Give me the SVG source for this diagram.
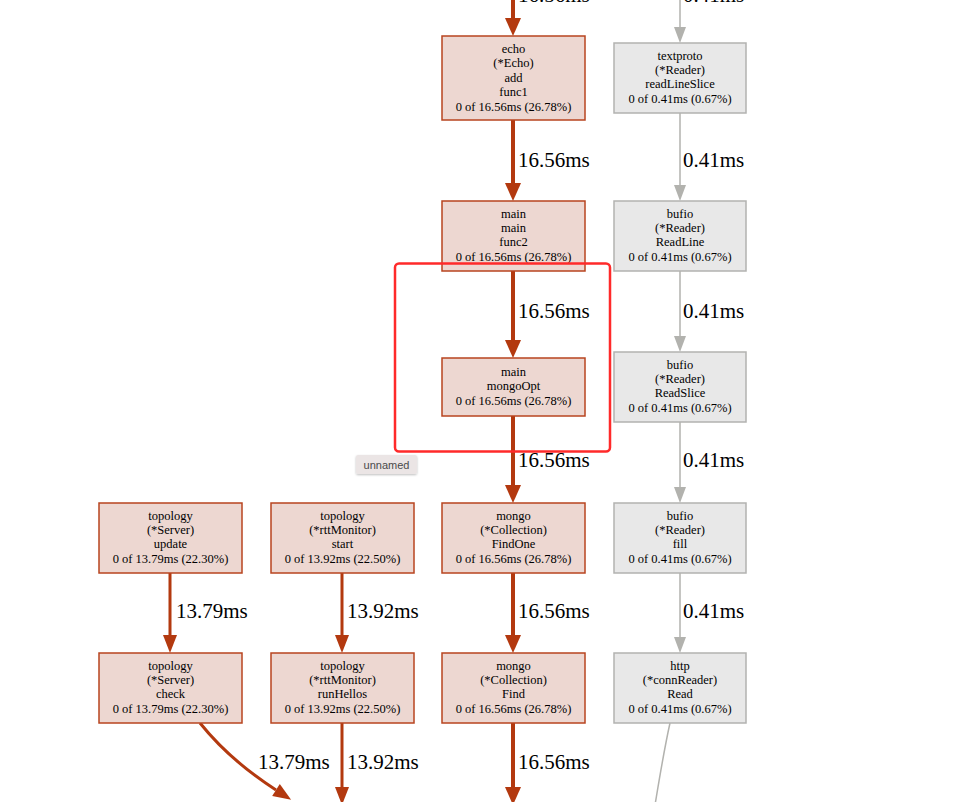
<svg xmlns="http://www.w3.org/2000/svg" width="961" height="802" viewBox="0 0 961 802">
<defs>
<style>
.hot rect{fill:#edd7d1;stroke:#b8441f;stroke-width:1.5}
.cold rect{fill:#e8e8e8;stroke:#b2b2b0;stroke-width:1.5}
.node text{font-family:"Liberation Serif","Times New Roman",serif;font-size:12.5px;fill:#000;text-anchor:middle}
.elabel{font-family:"Liberation Serif","Times New Roman",serif;font-size:21px;fill:#000}
.e-red{fill:none;stroke:#b3390f;stroke-width:4}
.e-red2{fill:none;stroke:#b3390f;stroke-width:3}
.e-grey{fill:none;stroke:#b2b2ae;stroke-width:1.5}
</style>
<marker id="ar" markerUnits="userSpaceOnUse" markerWidth="20" markerHeight="20" refX="0" refY="8" orient="auto" overflow="visible"><path d="M0,0 L18,8 L0,16 z" fill="#b3390f"/></marker>
<marker id="ar2" markerUnits="userSpaceOnUse" markerWidth="20" markerHeight="20" refX="0" refY="7" orient="auto" overflow="visible"><path d="M0,0 L18,7 L0,14 z" fill="#b3390f"/></marker>
<marker id="ag" markerUnits="userSpaceOnUse" markerWidth="20" markerHeight="20" refX="0" refY="6" orient="auto" overflow="visible"><path d="M0,0 L16,6 L0,12 z" fill="#b2b2ae"/></marker>
<filter id="sh" x="-20%" y="-30%" width="140%" height="170%"><feDropShadow dx="0" dy="1" stdDeviation="1" flood-color="#000" flood-opacity="0.25"/></filter>
</defs>
<rect width="961" height="802" fill="#fff"/>

<g id="connectors">
<line class="e-red" x1="513" y1="-10" x2="513" y2="18" marker-end="url(#ar)"/>
<line class="e-red" x1="513" y1="120" x2="513" y2="183" marker-end="url(#ar)"/>
<line class="e-red" x1="513" y1="271" x2="513" y2="340" marker-end="url(#ar)"/>
<line class="e-red" x1="513" y1="416" x2="513" y2="485" marker-end="url(#ar)"/>
<line class="e-red" x1="513" y1="573" x2="513" y2="635" marker-end="url(#ar)"/>
<line class="e-red" x1="513" y1="723" x2="513" y2="787" marker-end="url(#ar)"/>
<line class="e-grey" x1="680" y1="-10" x2="680" y2="27" marker-end="url(#ag)"/>
<line class="e-grey" x1="680" y1="113" x2="680" y2="185" marker-end="url(#ag)"/>
<line class="e-grey" x1="680" y1="271" x2="680" y2="336" marker-end="url(#ag)"/>
<line class="e-grey" x1="680" y1="422" x2="680" y2="487" marker-end="url(#ag)"/>
<line class="e-grey" x1="680" y1="573" x2="680" y2="637" marker-end="url(#ag)"/>
<path class="e-grey" d="M670,723 C664,750 660,775 655,805"/>
<line class="e-red2" x1="170" y1="573" x2="170" y2="635" marker-end="url(#ar2)"/>
<line class="e-red2" x1="342" y1="573" x2="342" y2="635" marker-end="url(#ar2)"/>
<line class="e-red2" x1="342" y1="723" x2="342" y2="787" marker-end="url(#ar2)"/>
<path class="e-red2" d="M200,723 C220,748 245,770 276,790" marker-end="url(#ar2)"/>
<text class="elabel" x="518" y="2">16.56ms</text>
<text class="elabel" x="683" y="2">0.41ms</text>
<text class="elabel" x="518" y="167">16.56ms</text>
<text class="elabel" x="683" y="167">0.41ms</text>
<text class="elabel" x="518" y="318">16.56ms</text>
<text class="elabel" x="683" y="318">0.41ms</text>
<text class="elabel" x="518" y="467">16.56ms</text>
<text class="elabel" x="683" y="467">0.41ms</text>
<text class="elabel" x="518" y="618">16.56ms</text>
<text class="elabel" x="683" y="618">0.41ms</text>
<text class="elabel" x="176" y="618">13.79ms</text>
<text class="elabel" x="347" y="618">13.92ms</text>
<text class="elabel" x="258" y="769">13.79ms</text>
<text class="elabel" x="347" y="769">13.92ms</text>
<text class="elabel" x="518" y="769">16.56ms</text>
</g>

<g id="n_echo_add_func1" class="node hot">
<rect x="442" y="36" width="143" height="84"/>
<text x="513.5" y="53">echo</text>
<text x="513.5" y="67.4">(*Echo)</text>
<text x="513.5" y="81.8">add</text>
<text x="513.5" y="96.2">func1</text>
<text x="513.5" y="110.6">0 of 16.56ms (26.78%)</text>
</g>
<g id="n_main_func2" class="node hot">
<rect x="442" y="201" width="143" height="70"/>
<text x="513.5" y="217.5">main</text>
<text x="513.5" y="231.9">main</text>
<text x="513.5" y="246.3">func2</text>
<text x="513.5" y="260.7">0 of 16.56ms (26.78%)</text>
</g>
<g id="n_main_mongoOpt" class="node hot">
<rect x="442" y="358" width="143" height="58"/>
<text x="513.5" y="376">main</text>
<text x="513.5" y="390.4">mongoOpt</text>
<text x="513.5" y="404.8">0 of 16.56ms (26.78%)</text>
</g>
<g id="n_mongo_FindOne" class="node hot">
<rect x="442" y="503" width="143" height="70"/>
<text x="513.5" y="519.5">mongo</text>
<text x="513.5" y="533.9">(*Collection)</text>
<text x="513.5" y="548.3">FindOne</text>
<text x="513.5" y="562.7">0 of 16.56ms (26.78%)</text>
</g>
<g id="n_mongo_Find" class="node hot">
<rect x="442" y="653" width="143" height="70"/>
<text x="513.5" y="669.5">mongo</text>
<text x="513.5" y="683.9">(*Collection)</text>
<text x="513.5" y="698.3">Find</text>
<text x="513.5" y="712.7">0 of 16.56ms (26.78%)</text>
</g>
<g id="n_topology_update" class="node hot">
<rect x="99" y="503" width="143" height="70"/>
<text x="170.5" y="519.5">topology</text>
<text x="170.5" y="533.9">(*Server)</text>
<text x="170.5" y="548.3">update</text>
<text x="170.5" y="562.7">0 of 13.79ms (22.30%)</text>
</g>
<g id="n_topology_check" class="node hot">
<rect x="99" y="653" width="143" height="70"/>
<text x="170.5" y="669.5">topology</text>
<text x="170.5" y="683.9">(*Server)</text>
<text x="170.5" y="698.3">check</text>
<text x="170.5" y="712.7">0 of 13.79ms (22.30%)</text>
</g>
<g id="n_rtt_start" class="node hot">
<rect x="271" y="503" width="143" height="70"/>
<text x="342.5" y="519.5">topology</text>
<text x="342.5" y="533.9">(*rttMonitor)</text>
<text x="342.5" y="548.3">start</text>
<text x="342.5" y="562.7">0 of 13.92ms (22.50%)</text>
</g>
<g id="n_rtt_runHellos" class="node hot">
<rect x="271" y="653" width="143" height="70"/>
<text x="342.5" y="669.5">topology</text>
<text x="342.5" y="683.9">(*rttMonitor)</text>
<text x="342.5" y="698.3">runHellos</text>
<text x="342.5" y="712.7">0 of 13.92ms (22.50%)</text>
</g>
<g id="n_textproto_readLineSlice" class="node cold">
<rect x="614" y="43" width="132" height="70"/>
<text x="680" y="59.5">textproto</text>
<text x="680" y="73.9">(*Reader)</text>
<text x="680" y="88.3">readLineSlice</text>
<text x="680" y="102.7">0 of 0.41ms (0.67%)</text>
</g>
<g id="n_bufio_ReadLine" class="node cold">
<rect x="614" y="201" width="132" height="70"/>
<text x="680" y="217.5">bufio</text>
<text x="680" y="231.9">(*Reader)</text>
<text x="680" y="246.3">ReadLine</text>
<text x="680" y="260.7">0 of 0.41ms (0.67%)</text>
</g>
<g id="n_bufio_ReadSlice" class="node cold">
<rect x="614" y="352" width="132" height="70"/>
<text x="680" y="368.5">bufio</text>
<text x="680" y="382.9">(*Reader)</text>
<text x="680" y="397.3">ReadSlice</text>
<text x="680" y="411.7">0 of 0.41ms (0.67%)</text>
</g>
<g id="n_bufio_fill" class="node cold">
<rect x="614" y="503" width="132" height="70"/>
<text x="680" y="519.5">bufio</text>
<text x="680" y="533.9">(*Reader)</text>
<text x="680" y="548.3">fill</text>
<text x="680" y="562.7">0 of 0.41ms (0.67%)</text>
</g>
<g id="n_http_Read" class="node cold">
<rect x="614" y="653" width="132" height="70"/>
<text x="680" y="669.5">http</text>
<text x="680" y="683.9">(*connReader)</text>
<text x="680" y="698.3">Read</text>
<text x="680" y="712.7">0 of 0.41ms (0.67%)</text>
</g>

<g id="highlight">
<rect x="395" y="263.5" width="215" height="188" rx="4" fill="none" stroke="#ff2a2a" stroke-width="2.5"/>
<rect x="356" y="455" width="61" height="19" rx="2" fill="#ebe5e5" filter="url(#sh)"/>
<text x="386.5" y="468.5" font-family="Liberation Sans, Arial, sans-serif" font-size="11" fill="#4a4a4a" text-anchor="middle">unnamed</text>
</g>
</svg>
